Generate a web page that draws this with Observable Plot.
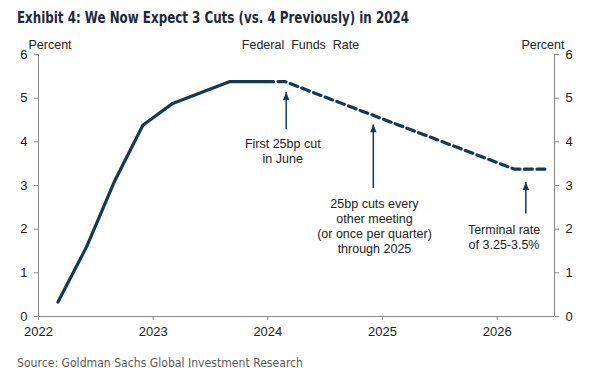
<!DOCTYPE html>
<html>
<head>
<meta charset="utf-8">
<script src="https://cdn.jsdelivr.net/npm/d3@7"></script>
<script src="https://cdn.jsdelivr.net/npm/@observablehq/plot@0.6"></script>
<style>
  body { margin: 0; background: #fff; }
  #wrap { width: 610px; height: 382px; overflow: hidden; position: relative; }
  #title { height: 30px; box-sizing: border-box; padding: 9px 0 0 17px; line-height: 18px; white-space: nowrap; }
  #title span { display: inline-block; font-family: "DejaVu Sans", sans-serif; font-stretch: condensed; font-weight: bold; font-size: 15px; color: #1c2a3a; transform-origin: 0 50%; }
  #chart { height: 316px; }
  #source { height: 36px; box-sizing: border-box; padding: 8px 0 0 17px; line-height: 16px; white-space: nowrap; }
  #source span { display: inline-block; font-family: "DejaVu Sans", sans-serif; font-stretch: condensed; font-weight: normal; font-size: 13px; color: #5a5a5a; transform-origin: 0 50%; }
</style>
</head>
<body>
<div id="wrap">
  <div id="title"><span id="titleText">Exhibit 4: We Now Expect 3 Cuts (vs. 4 Previously) in 2024</span></div>
  <div id="chart"></div>
  <div id="source"><span id="sourceText">Source: Goldman Sachs Global Investment Research</span></div>
</div>
<script>
// Actual federal funds rate (decimal years, percent)
const actualYears = [2022.17, 2022.42, 2022.66, 2022.91, 2023.17, 2023.67, 2023.98];
const actualRates = [0.33, 1.6, 3.08, 4.38, 4.88, 5.38, 5.38];

// Goldman Sachs forecast path
const forecastYears = [2023.98, 2024.15, 2024.40, 2024.65, 2024.90, 2025.15, 2025.40, 2025.65, 2025.90, 2026.15, 2026.43];
const forecastRates = [5.38, 5.38, 5.125, 4.875, 4.625, 4.375, 4.125, 3.875, 3.625, 3.375, 3.375];

// Axis ticks
const xTicks = [2022, 2023, 2024, 2025, 2026];
const xDomain = [2022, 2026.5];
const yTicks = [0, 1, 2, 3, 4, 5, 6];
const yDomain = [0, 6];

// Annotations
const noteTexts = ["First 25bp cut\nin June", "25bp cuts every\nother meeting\n(or once per quarter)\nthrough 2025", "Terminal rate\nof 3.25-3.5%"];
const noteYears = [2024.13, 2024.93, 2026.06];
const noteRates = [3.79, 2.09, 1.83];
const arrowYears = [2024.16, 2024.92, 2026.25];
const arrowFrom = [4.29, 2.94, 2.36];
const arrowTo = [5.14, 4.40, 3.08];

const navy = "#11395a";
const axisGray = "#8a8a8a";

const actual = actualYears.map((x, i) => ({x, y: actualRates[i]}));
const forecast = forecastYears.map((x, i) => ({x, y: forecastRates[i]}));
const notes = noteTexts.map((t, i) => ({t, x: noteYears[i], y: noteRates[i]}));
const arrows = arrowYears.map((x, i) => ({x, y1: arrowFrom[i], y2: arrowTo[i]}));

const arrowHead = {
  draw(ctx) {
    ctx.moveTo(0, 0);
    ctx.lineTo(3.2, 8);
    ctx.lineTo(-3.2, 8);
    ctx.closePath();
  }
};

const chart = Plot.plot({
  width: 610,
  height: 316,
  marginLeft: 38,
  marginRight: 56,
  marginTop: 24,
  marginBottom: 30,
  x: {domain: xDomain},
  y: {domain: yDomain},
  style: {fontFamily: "'Liberation Sans', Arial, sans-serif", fontSize: "12.5px", color: "#222", background: "#fff"},
  marks: [
    Plot.ruleX(xDomain, {stroke: axisGray}),
    Plot.ruleY([yDomain[0]], {stroke: axisGray}),
    Plot.axisX({ticks: xTicks, tickFormat: "d", tickSize: 4, tickPadding: 6, stroke: axisGray, fontSize: 13, label: null}),
    Plot.axisY({anchor: "left", ticks: yTicks, tickFormat: "d", tickSize: 4, tickPadding: 7, stroke: axisGray, fontSize: 13, label: null}),
    Plot.axisY({anchor: "right", ticks: yTicks, tickFormat: "d", tickSize: 4, tickPadding: 7, stroke: axisGray, fontSize: 13, label: null}),
    Plot.line(actual, {x: "x", y: "y", stroke: navy, strokeWidth: 3.2, strokeLinejoin: "round"}),
    Plot.line(forecast, {x: "x", y: "y", stroke: navy, strokeWidth: 3.2, strokeDasharray: "8,4.5"}),
    Plot.link(arrows, {x1: "x", x2: "x", y1: "y1", y2: "y2", stroke: navy, strokeWidth: 1.5}),
    Plot.dot(arrows, {x: "x", y: "y2", symbol: arrowHead, fill: navy, stroke: null, r: 4}),
    Plot.text(notes, {x: "x", y: "y", text: "t", lineAnchor: "middle", lineHeight: 1.2, fill: "#222"}),
    Plot.text(["Percent"], {frameAnchor: "top-left", textAnchor: "start", dx: -10, dy: -10, lineAnchor: "middle", fill: "#222"}),
    Plot.text(["Percent"], {frameAnchor: "top-right", textAnchor: "end", dx: 10, dy: -10, lineAnchor: "middle", fill: "#222"}),
    Plot.text(["Federal  Funds  Rate"], {frameAnchor: "top", dx: 4, dy: -10, lineAnchor: "middle", fill: "#222"})
  ]
});
document.getElementById("chart").appendChild(chart);

function fit(id, w) {
  const el = document.getElementById(id);
  const cw = el.getBoundingClientRect().width;
  if (cw > 0) el.style.transform = `scaleX(${w / cw})`;
}
fit("titleText", 392);
fit("sourceText", 286);
</script>
</body>
</html>
